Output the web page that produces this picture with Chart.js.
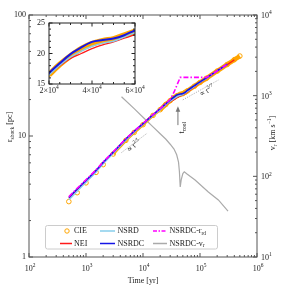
<!DOCTYPE html>
<html>
<head>
<meta charset="utf-8">
<script src="https://cdn.jsdelivr.net/npm/chart.js@4.4.1/dist/chart.umd.min.js"></script>
<style>
  html, body { margin: 0; padding: 0; background: #fff; }
  #wrap { position: relative; width: 287px; height: 287px; }
  #wrap canvas { position: absolute; left: 0; top: 0; }
</style>
</head>
<body>
<div id="wrap">
  <canvas id="main" width="287" height="287"></canvas>
  <canvas id="inset" width="287" height="287"></canvas>
</div>
<script>
// --- data ---
const times = [500, 700, 1000, 1500, 2000, 3000, 5000, 7000, 10000, 15000, 20000, 25000, 30000, 35000, 40000,
               45000, 50000, 55000, 60000, 80000, 100000, 130000, 200000, 300000, 400000, 500000];
const cie   = [2.87, 3.4, 4.1, 5.0, 5.8, 7.1, 9.2, 10.7, 12.4, 14.8, 16.5, 18.2, 19.6, 20.8, 21.6,
               22.1, 22.4, 23.0, 23.6, 25.8, 27.7, 30.0, 34.4, 39.0, 42.7, 45.8];
const nei   = [3.05, 3.6, 4.2, 5.1, 5.95, 7.25, 9.3, 10.8, 12.5, 14.9, 16.6, 18.0, 19.2, 20.0, 20.8,
               21.4, 21.9, 22.5, 23.1, 25.4, 27.5, 29.9, 34.3, 38.9, 42.6, null];
const nsrd  = [2.97, 3.5, 4.15, 5.05, 5.9, 7.2, 9.25, 10.75, 12.45, 14.8, 16.5, 18.1, 19.4, 20.4, 21.2,
               21.7, 22.0, 22.7, 23.4, 25.7, 27.7, 30.0, 34.4, 39.0, null, null];
const nsrdc = [3.1, 3.65, 4.3, 5.2, 6.05, 7.35, 9.45, 10.95, 12.65, 15.0, 16.8, 18.4, 19.9, 21.0, 21.9,
               22.2, 22.45, 23.0, 23.8, 26.1, 28.0, 30.3, 34.6, 39.2, null, null];
const rdRad = [3.15, 3.7, 4.35, 5.25, 6.1, 7.4, 9.5, 11.0, 12.7, 15.05, 16.85, 18.5, 20.1, 23.0, 26.8,
               30.5, 30.5, 30.5, 30.5, 30.5, 30.5, 30.5, 34.6, 39.2, null, null];

// NSRDC shock velocity (right axis, km/s)
const vrTimes = [4200, 7000, 10000, 15000, 20000, 25000, 30000, 35000, 39000, 42000, 43500, 45000,
                 47000, 50000, 53000, 60000, 82000, 140000, 210000, 310000];
const vrVals  = [970, 690, 540, 410, 337, 290, 250, 218, 185, 150, 115, 74,
                 92, 108, 114, 106, 90, 64, 51, 37];

// power-law guide lines
const slope25T = [4200, 12000];
const slope25R = [7.3, 10.6];
const slope27T = [50000, 210000];
const slope27R = [19.9, 29.0];
const coolTime = 41000;
const coolArrow = [12.3, 17.6];

// ticks
const xMajors = [1e2, 1e3, 1e4, 1e5, 1e6];
const xExps = ['2', '3', '4', '5', '6'];
const yMajors = [1, 10, 100];
const yLabels = ['1', '10', '100'];
const vMajors = [10, 100, 1000, 10000];
const vExps = ['1', '2', '3', '4'];
const insetXMajors = [20000, 40000, 60000];
const insetXMant = ['2', '4', '6'];
const insetYMajors = [15, 20, 25];

const ORANGE = '#FFA500', RED = '#FF1A1A', SKY = '#87CEEB', BLUE = '#1515E6', MAGENTA = '#FF00FF', GRAY = '#AAAAAA';
const FONT = "'Liberation Serif', 'DejaVu Serif', serif";
const INK = '#222';

function pts(xs, ys) {
    const out = [];
    xs.forEach((t, i) => { if (ys[i] != null) out.push({ x: t, y: ys[i] }); });
    return out;
}

function drawRich(ctx, parts, x, y, size, align) {
    const small = size * 0.68;
    let w = 0;
    parts.forEach(p => { ctx.font = (p[1] ? small : size) + 'px ' + FONT; w += ctx.measureText(p[0]).width; });
    let cx = align === 'center' ? x - w / 2 : (align === 'right' ? x - w : x);
    ctx.textAlign = 'left';
    ctx.textBaseline = 'middle';
    ctx.fillStyle = INK;
    parts.forEach(p => {
        ctx.font = (p[1] ? small : size) + 'px ' + FONT;
        const dy = p[1] === 'sup' ? -size * 0.38 : (p[1] === 'sub' ? size * 0.3 : 0);
        ctx.fillText(p[0], cx, y + dy);
        cx += ctx.measureText(p[0]).width;
    });
}

function logTicks(min, max) {
    const out = [];
    for (let e = Math.round(Math.log10(min)); e < Math.round(Math.log10(max)); e++) {
        for (let m = 1; m < 10; m++) out.push({ v: m * Math.pow(10, e), major: m === 1 });
    }
    out.push({ v: max, major: true });
    return out;
}

function linTicks(min, max, step, majorStep) {
    const out = [];
    for (let v = min; v <= max + 1e-9; v += step) {
        out.push({ v: v, major: Math.abs((v - min) / majorStep - Math.round((v - min) / majorStep)) < 1e-6 });
    }
    return out;
}

function seg(ctx, x1, y1, x2, y2) {
    ctx.beginPath(); ctx.moveTo(x1, y1); ctx.lineTo(x2, y2); ctx.stroke();
}

const legendItems = [
    { parts: [['CIE', '']], kind: 'circle', color: ORANGE, col: 0, row: 0 },
    { parts: [['NEI', '']], kind: 'line', color: RED, col: 0, row: 1 },
    { parts: [['NSRD', '']], kind: 'line', color: SKY, col: 1, row: 0 },
    { parts: [['NSRDC', '']], kind: 'line', color: BLUE, col: 1, row: 1 },
    { parts: [['NSRDC-r', ''], ['rd', 'sub']], kind: 'dash', color: MAGENTA, col: 2, row: 0 },
    { parts: [['NSRDC-v', ''], ['r', 'sub']], kind: 'line', color: GRAY, col: 2, row: 1 }
];
const legendCols = [[60, 72, 74], [100, 115, 117.5], [153, 167, 169.5]];
const legendRows = [231, 243.5];

const mainPlugin = {
    id: 'mainAxes',
    afterDatasetsDraw(chart) {
        const { ctx } = chart;
        const x = chart.scales.x, y = chart.scales.y;
        ctx.save();
        // t^2/5 label
        let x1 = x.getPixelForValue(slope25T[0]), y1 = y.getPixelForValue(slope25R[0]);
        let x2 = x.getPixelForValue(slope25T[1]), y2 = y.getPixelForValue(slope25R[1]);
        ctx.save();
        ctx.translate(x.getPixelForValue(6950), y.getPixelForValue(8.27));
        ctx.rotate(Math.atan2(y2 - y1, x2 - x1));
        drawRich(ctx, [['\u221D t', ''], ['2/5', 'sup']], 0, 0, 7.5, 'center');
        ctx.restore();
        // t^2/7 label
        x1 = x.getPixelForValue(slope27T[0]); y1 = y.getPixelForValue(slope27R[0]);
        x2 = x.getPixelForValue(slope27T[1]); y2 = y.getPixelForValue(slope27R[1]);
        ctx.save();
        ctx.translate(x.getPixelForValue(133000), y.getPixelForValue(23.5));
        ctx.rotate(Math.atan2(y2 - y1, x2 - x1));
        drawRich(ctx, [['\u221D t', ''], ['2/7', 'sup']], 0, 0, 7.5, 'center');
        ctx.restore();
        // t_cool arrow
        const ax = x.getPixelForValue(coolTime);
        const yt = y.getPixelForValue(coolArrow[0]), yh = y.getPixelForValue(coolArrow[1]);
        ctx.strokeStyle = '#777'; ctx.fillStyle = '#777'; ctx.lineWidth = 1;
        seg(ctx, ax, yt, ax, yh + 4);
        ctx.beginPath();
        ctx.moveTo(ax, yh); ctx.lineTo(ax - 2.3, yh + 5.5); ctx.lineTo(ax + 2.3, yh + 5.5); ctx.closePath(); ctx.fill();
        ctx.save();
        ctx.translate(ax + 4, y.getPixelForValue(11.7));
        ctx.rotate(-Math.PI / 2);
        drawRich(ctx, [['t', ''], ['cool', 'sub']], 0, 0, 8, 'center');
        ctx.restore();
        ctx.restore();
    },
    afterDraw(chart) {
        const { ctx, chartArea: a } = chart;
        const x = chart.scales.x, y = chart.scales.y, y2 = chart.scales.y2;
        ctx.save();
        // legend
        ctx.fillStyle = 'rgba(255,255,255,0.85)';
        ctx.strokeStyle = '#cccccc'; ctx.lineWidth = 1;
        ctx.beginPath();
        ctx.roundRect(45.5, 225.5, 172, 23.5, 2);
        ctx.fill(); ctx.stroke();
        legendItems.forEach(it => {
            const c = legendCols[it.col], ry = legendRows[it.row];
            ctx.strokeStyle = it.color;
            if (it.kind === 'circle') {
                ctx.lineWidth = 1;
                ctx.beginPath(); ctx.arc(67, ry, 2.2, 0, Math.PI * 2); ctx.stroke();
            } else {
                ctx.lineWidth = 1.5;
                ctx.setLineDash(it.kind === 'dash' ? [4, 1.5, 1.5, 1.5] : []);
                seg(ctx, c[0], ry, c[1], ry);
                ctx.setLineDash([]);
            }
            drawRich(ctx, it.parts, c[2], ry, 8, 'left');
        });
        // frame
        ctx.strokeStyle = '#555'; ctx.lineWidth = 1;
        ctx.strokeRect(a.left, a.top, a.right - a.left, a.bottom - a.top);
        // x ticks (bottom & top)
        logTicks(1e2, 1e6).forEach(t => {
            const px = x.getPixelForValue(t.v), len = t.major ? 4 : 2;
            seg(ctx, px, a.bottom, px, a.bottom - len);
            seg(ctx, px, a.top, px, a.top + len);
        });
        logTicks(1, 100).forEach(t => {
            const py = y.getPixelForValue(t.v), len = t.major ? 4 : 2;
            seg(ctx, a.left, py, a.left + len, py);
        });
        logTicks(10, 1e4).forEach(t => {
            const py = y2.getPixelForValue(t.v), len = t.major ? 4 : 2;
            seg(ctx, a.right, py, a.right - len, py);
        });
        // tick labels
        xMajors.forEach((v, i) => {
            drawRich(ctx, [['10', ''], [xExps[i], 'sup']], x.getPixelForValue(v) + 1, a.bottom + 12, 8, 'center');
        });
        yMajors.forEach((v, i) => {
            drawRich(ctx, [[yLabels[i], '']], a.left - 3, y.getPixelForValue(v), 8, 'right');
        });
        vMajors.forEach((v, i) => {
            drawRich(ctx, [['10', ''], [vExps[i], 'sup']], a.right + 4, y2.getPixelForValue(v) + 1, 8, 'left');
        });
        // axis titles
        drawRich(ctx, [['Time [yr]', '']], (a.left + a.right) / 2, 281, 8, 'center');
        ctx.save();
        ctx.translate(10, 127); ctx.rotate(-Math.PI / 2);
        drawRich(ctx, [['r', ''], ['shock', 'sub'], [' [pc]', '']], 0, 0, 8, 'center');
        ctx.restore();
        ctx.save();
        ctx.translate(273, 133); ctx.rotate(-Math.PI / 2);
        drawRich(ctx, [['v', ''], ['r', 'sub'], [' [km s', ''], ['\u22121', 'sup'], [']', '']], 0, 0, 8, 'center');
        ctx.restore();
        ctx.restore();
    }
};

const insetPlugin = {
    id: 'insetAxes',
    beforeDraw(chart) {
        const { ctx, chartArea: a } = chart;
        ctx.save();
        ctx.fillStyle = '#fff';
        ctx.fillRect(a.left, a.top, a.right - a.left, a.bottom - a.top);
        ctx.restore();
    },
    afterDraw(chart) {
        const { ctx, chartArea: a } = chart;
        const x = chart.scales.x, y = chart.scales.y;
        ctx.save();
        ctx.strokeStyle = '#222'; ctx.lineWidth = 1;
        ctx.strokeRect(a.left, a.top, a.right - a.left, a.bottom - a.top);
        linTicks(20000, 60000, 5000, 20000).forEach(t => {
            const px = x.getPixelForValue(t.v), len = t.major ? 3.5 : 2;
            seg(ctx, px, a.bottom, px, a.bottom - len);
            seg(ctx, px, a.top, px, a.top + len);
        });
        linTicks(15, 25, 1, 5).forEach(t => {
            const py = y.getPixelForValue(t.v), len = t.major ? 3.5 : 2;
            seg(ctx, a.left, py, a.left + len, py);
            seg(ctx, a.right, py, a.right - len, py);
        });
        insetXMajors.forEach((v, i) => {
            drawRich(ctx, [[insetXMant[i] + '\u00D710', ''], ['4', 'sup']], x.getPixelForValue(v), a.bottom + 7, 8, 'center');
        });
        insetYMajors.forEach(v => {
            drawRich(ctx, [[String(v), '']], a.left - 4, y.getPixelForValue(v), 8, 'right');
        });
        ctx.restore();
    }
};

const baseOpts = {
    responsive: false,
    animation: false,
    events: [],
    plugins: { legend: { display: false }, tooltip: { enabled: false } },
    elements: { point: { radius: 0 } }
};

function radiusSets(widthScale) {
    return [
        {
            label: 'CIE', data: pts(times, cie), order: 6, yAxisID: 'y',
            borderColor: ORANGE, borderWidth: 4.5 * widthScale, cubicInterpolationMode: 'monotone',
            pointRadius: widthScale === 1 ? 2.3 : 0, pointBorderColor: ORANGE, pointBorderWidth: 1,
            pointBackgroundColor: 'rgba(255,255,255,0)',
            segment: {
                borderColor: c => c.p0.parsed.x < 3000 ? 'rgba(0,0,0,0)' : ORANGE,
                borderWidth: c => (c.p0.parsed.x < 20000 ? 3 : 4.5) * widthScale
            }
        },
        { label: 'NEI', data: pts(times, nei), order: 5, yAxisID: 'y', borderColor: RED, borderWidth: 1.3, cubicInterpolationMode: 'monotone' },
        { label: 'NSRD', data: pts(times, nsrd), order: 4, yAxisID: 'y', borderColor: SKY, borderWidth: 1.5, cubicInterpolationMode: 'monotone' },
        { label: 'NSRDC', data: pts(times, nsrdc), order: 3, yAxisID: 'y', borderColor: BLUE, borderWidth: 1.6 * widthScale, cubicInterpolationMode: 'monotone' }
    ];
}

const mainSets = radiusSets(1).concat([
    { label: 'NSRDC-rrd', data: pts(times, rdRad), order: 2, yAxisID: 'y', borderColor: MAGENTA, borderWidth: 1.6,
      borderDash: [5, 2, 1.5, 2], tension: 0 },
    { label: 'NSRDC-vr', data: pts(vrTimes, vrVals), order: 7, yAxisID: 'y2', borderColor: GRAY, borderWidth: 1.2, tension: 0 },
    { label: 'slope25', data: pts(slope25T, slope25R), order: 8, yAxisID: 'y', borderColor: '#8a8a8a', borderWidth: 0.8, borderDash: [1, 1.5] },
    { label: 'slope27', data: pts(slope27T, slope27R), order: 8, yAxisID: 'y', borderColor: '#8a8a8a', borderWidth: 0.8, borderDash: [1, 1.5] }
]);

new Chart(document.getElementById('main'), {
    type: 'line',
    data: { datasets: mainSets },
    options: Object.assign({}, baseOpts, {
        layout: { padding: { left: 29, right: 30, top: 15, bottom: 30 } },
        scales: {
            x: { type: 'logarithmic', min: 100, max: 1e6, display: false },
            y: { type: 'logarithmic', min: 1, max: 100, display: false },
            y2: { type: 'logarithmic', min: 10, max: 1e4, display: false, position: 'right' }
        }
    }),
    plugins: [mainPlugin]
});

new Chart(document.getElementById('inset'), {
    type: 'line',
    data: { datasets: radiusSets(1.25) },
    options: Object.assign({}, baseOpts, {
        layout: { padding: { left: 49, right: 152, top: 23, bottom: 203 } },
        scales: {
            x: { type: 'linear', min: 20000, max: 60000, display: false },
            y: { type: 'linear', min: 15, max: 25, display: false }
        }
    }),
    plugins: [insetPlugin]
});
</script>
</body>
</html>
